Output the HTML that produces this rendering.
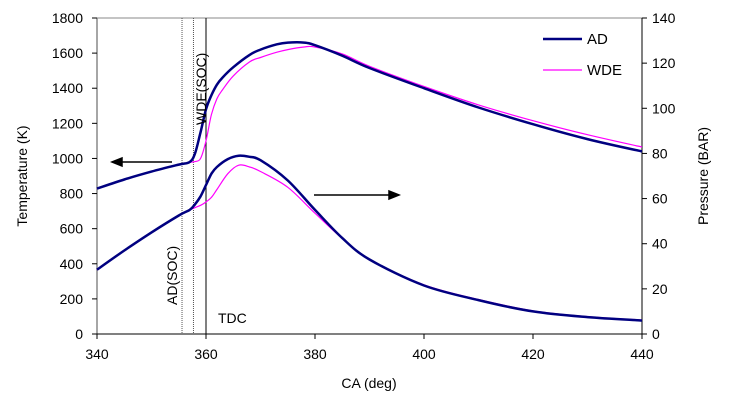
<!DOCTYPE html>
<html><head><meta charset="utf-8"><style>
body{margin:0;background:#fff;}
svg text{font-family:"Liberation Sans",sans-serif;font-size:14px;fill:#000;}
</style></head><body>
<svg width="731" height="405" id="c">
<g id="g"></g>
</svg>
<script>
const caT=[340,345,350,355,357,358,359,360,361,362,363,365,368,370,373,375,378,380,385,390,400,410,420,430,440];
const tAD=[828,880,925,965,980,1030,1150,1280,1360,1420,1460,1520,1590,1620,1650,1660,1660,1645,1585,1515,1400,1290,1195,1110,1040];
const tWDE=[828,880,925,965,978,982,1000,1100,1250,1340,1390,1470,1550,1575,1605,1620,1635,1635,1595,1525,1410,1305,1215,1135,1065];
const caP=[340,345,350,355,357,358,359,360,361,362,364,366,368,370,375,380,385,390,400,410,420,430,440];
const pAD=[28.5,37,45,52.5,55,57.5,61,66,71,74,77.5,79,78.5,77,68,55,42.5,33,21.5,15,10,7.5,6];
const pWDE=[28.5,37,45,52.5,55,56,57,58.5,60.5,64,71,74.8,74,72,65,53.5,42.3,33,21.8,15.3,10.3,7.7,6.2];
const xTicks=[340,360,380,400,420,440];
const yTicks=[0,200,400,600,800,1000,1200,1400,1600,1800];
const y2Ticks=[0,20,40,60,80,100,120,140];
const X0=97,X1=642,Y0=334,Y1=18;
const sx=v=>X0+(v-340)/100*(X1-X0);
const sy=v=>Y0-v/1800*(Y0-Y1);
const sy2=v=>Y0-v/140*(Y0-Y1);
const NS='http://www.w3.org/2000/svg';const g=document.getElementById('g');
function el(t,a,txt){const e=document.createElementNS(NS,t);for(const k in a)e.setAttribute(k,a[k]);if(txt!=null)e.textContent=txt;g.appendChild(e);return e;}
let e;
e=el('line',{x1:X0,y1:Y1,x2:X1,y2:Y1,stroke:'#888','stroke-width':1});

e=el('line',{x1:X0,y1:Y1,x2:X0,y2:Y0,stroke:'#888','stroke-width':1.5});

e=el('line',{x1:X0,y1:Y0,x2:X1,y2:Y0,stroke:'#000','stroke-width':1});

e=el('line',{x1:X1,y1:Y1,x2:X1,y2:Y0,stroke:'#000','stroke-width':1});

yTicks.forEach(v=>{el('line',{x1:X0-5,y1:sy(v),x2:X0,y2:sy(v),stroke:'#000'});
e=el('text',{x:X0-14,y:sy(v)+5,'text-anchor':'end'},v);
});
y2Ticks.forEach(v=>{el('line',{x1:X1,y1:sy2(v),x2:X1+5,y2:sy2(v),stroke:'#000'});
e=el('text',{x:X1+10,y:sy2(v)+5},v);
});
xTicks.forEach(v=>{el('line',{x1:sx(v),y1:Y0,x2:sx(v),y2:Y0+5,stroke:'#000'});
e=el('text',{x:sx(v),y:Y0+25,'text-anchor':'middle'},v);
});
[355.6,357.7].forEach(v=>{e=el('line',{x1:sx(v),y1:Y1,x2:sx(v),y2:Y0,stroke:'#555','stroke-dasharray':'1,1'});
});
e=el('line',{x1:sx(360),y1:Y1,x2:sx(360),y2:Y0,stroke:'#000'});

function line(xs,ys,f,col,w,name){
const P=xs.map((x,i)=>[sx(x),f(ys[i])]);
let d='M'+P[0][0].toFixed(1)+','+P[0][1].toFixed(1);
for(let i=0;i<P.length-1;i++){const p0=P[Math.max(0,i-1)],p1=P[i],p2=P[i+1],p3=P[Math.min(P.length-1,i+2)];
const t=1/6;
d+='C'+(p1[0]+(p2[0]-p0[0])*t).toFixed(1)+','+(p1[1]+(p2[1]-p0[1])*t).toFixed(1)+' '+(p2[0]-(p3[0]-p1[0])*t).toFixed(1)+','+(p2[1]-(p3[1]-p1[1])*t).toFixed(1)+' '+p2[0].toFixed(1)+','+p2[1].toFixed(1);}
const p=el('path',{d:d,fill:'none',stroke:col,'stroke-width':w,'stroke-linejoin':'round'});
}
line(caT,tWDE,sy,'#ff00ff',1.2,'temperature-wde-line');
line(caT,tAD,sy,'#000080',2.5,'temperature-ad-line');
line(caP,pWDE,sy2,'#ff00ff',1.2,'pressure-wde-line');
line(caP,pAD,sy2,'#000080',2.5,'pressure-ad-line');
e=el('path',{d:'M172,162L118,162M112,162l10,-4v8z',stroke:'#000','stroke-width':1.5,fill:'#000'});

e=el('path',{d:'M314,195L392,195M399,195l-10,-4v8z',stroke:'#000','stroke-width':1.5,fill:'#000'});

e=el('text',{x:0,y:0,transform:'translate(206,125) rotate(-90)'},'WDE(SOC)');

e=el('text',{x:0,y:0,transform:'translate(177,305) rotate(-90)'},'AD(SOC)');

e=el('text',{x:218,y:323},'TDC');

e=el('line',{x1:543,y1:39,x2:582,y2:39,stroke:'#000080','stroke-width':2.5});

e=el('text',{x:587,y:44,style:'font-size:15px'},'AD');

e=el('line',{x1:543,y1:70,x2:582,y2:70,stroke:'#ff00ff','stroke-width':1.2});

e=el('text',{x:587,y:75,style:'font-size:15px'},'WDE');

e=el('text',{x:0,y:0,transform:'translate(27,176) rotate(-90)','text-anchor':'middle'},'Temperature (K)');

e=el('text',{x:0,y:0,transform:'translate(708,176) rotate(-90)','text-anchor':'middle'},'Pressure (BAR)');

e=el('text',{x:369,y:388,'text-anchor':'middle'},'CA (deg)');

</script>
</body></html>
